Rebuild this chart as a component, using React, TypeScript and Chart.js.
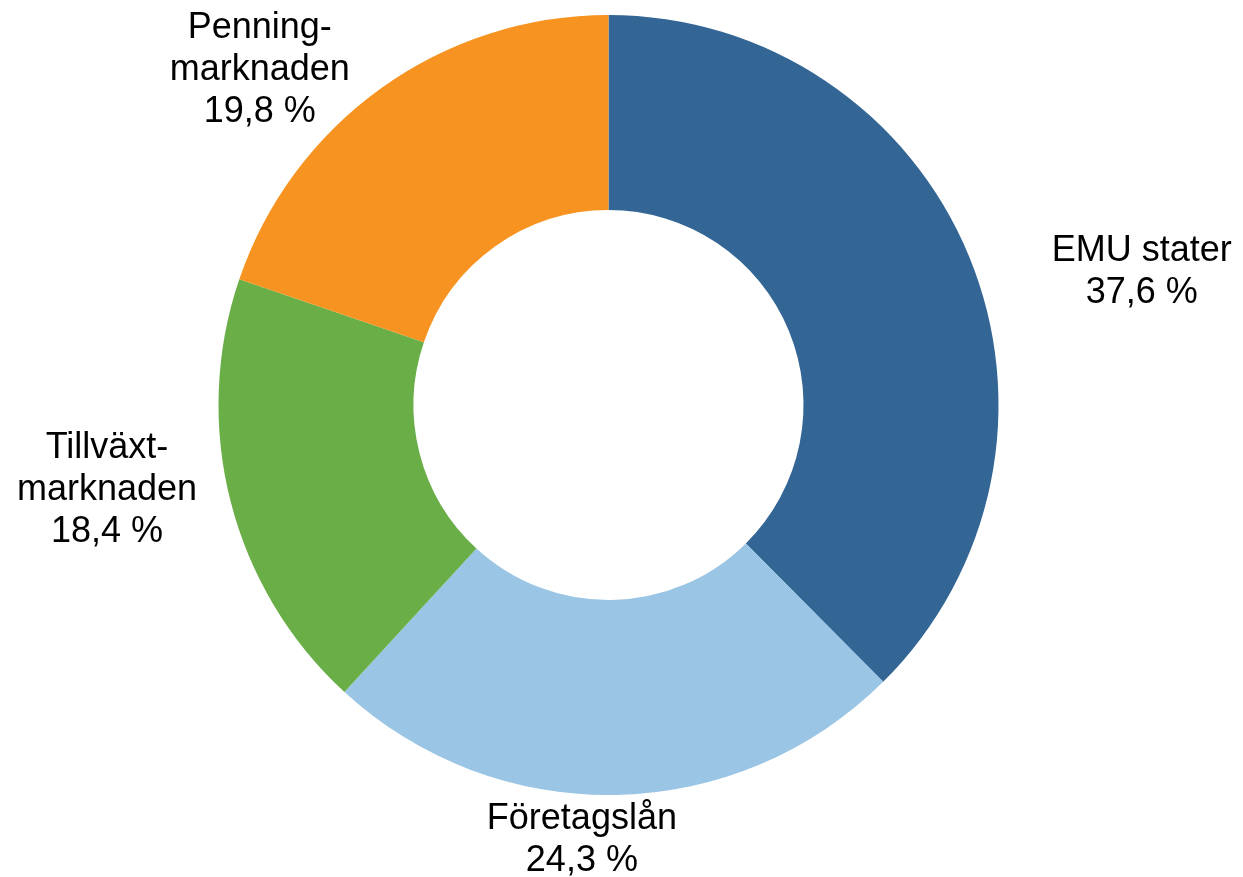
import React, { useEffect, useRef } from "react";
import { Chart, registerables } from "chart.js";

Chart.register(...registerables);

const categories: string[][] = [
  ["EMU stater"],
  ["Företagslån"],
  ["Tillväxt-", "marknaden"],
  ["Penning-", "marknaden"],
];
const values: number[] = [37.6, 24.3, 18.4, 19.8];
const colors: string[] = ["#336595", "#9ac5e4", "#69ae47", "#f79421"];

// label placement relative to each slice: angular shift (deg) and distance as a factor of outer radius
const labelPlacement = [
  { dAngle: 8.1, dist: 1.411 },
  { dAngle: 4.6, dist: 1.111 },
  { dAngle: 5.0, dist: 1.303 },
  { dAngle: -10.3, dist: 1.245 },
];

const fmt = (v: number) => v.toFixed(1).replace(".", ",") + " %";

const labelPlugin = {
  id: "outsideLabels",
  afterDraw(chart: any) {
    const ctx = chart.ctx;
    const meta = chart.getDatasetMeta(0);
    ctx.save();
    ctx.font = '36px "Liberation Sans", Arial, sans-serif';
    ctx.fillStyle = "#000000";
    ctx.textAlign = "center";
    ctx.textBaseline = "middle";
    const lineH = 42;
    meta.data.forEach((arc: any, i: number) => {
      const p = arc.getProps(["x", "y", "startAngle", "endAngle", "outerRadius"], true);
      const mid = (p.startAngle + p.endAngle) / 2;
      const pl = labelPlacement[i];
      const a = mid + (pl.dAngle * Math.PI) / 180;
      const cx = p.x + Math.cos(a) * p.outerRadius * pl.dist;
      const cy = p.y + Math.sin(a) * p.outerRadius * pl.dist + 3;
      const lines = [...categories[i], fmt(values[i])];
      const top = cy - ((lines.length - 1) * lineH) / 2;
      lines.forEach((t, j) => ctx.fillText(t, cx, top + j * lineH));
    });
    ctx.restore();
  },
};

export default function App() {
  const ref = useRef<HTMLCanvasElement | null>(null);
  useEffect(() => {
    if (!ref.current) return;
    const chart = new Chart(ref.current, {
      type: "doughnut",
      data: {
        labels: categories.map((c) => c.join("")),
        datasets: [
          {
            data: values,
            backgroundColor: colors,
            borderWidth: 0,
          },
        ],
      },
      options: {
        responsive: false,
        animation: false,
        cutout: "50%",
        layout: { padding: { top: 15, bottom: 82, left: 218.5, right: 244.5 } },
        plugins: {
          legend: { display: false },
          tooltip: { enabled: false },
        },
      },
      plugins: [labelPlugin],
    });
    return () => chart.destroy();
  }, []);
  return (
    <div style={{ position: "fixed", left: 0, top: 0, width: 1243, height: 877, background: "#fff" }}>
      <canvas ref={ref} width={1243} height={877} style={{ width: 1243, height: 877 }} />
    </div>
  );
}
